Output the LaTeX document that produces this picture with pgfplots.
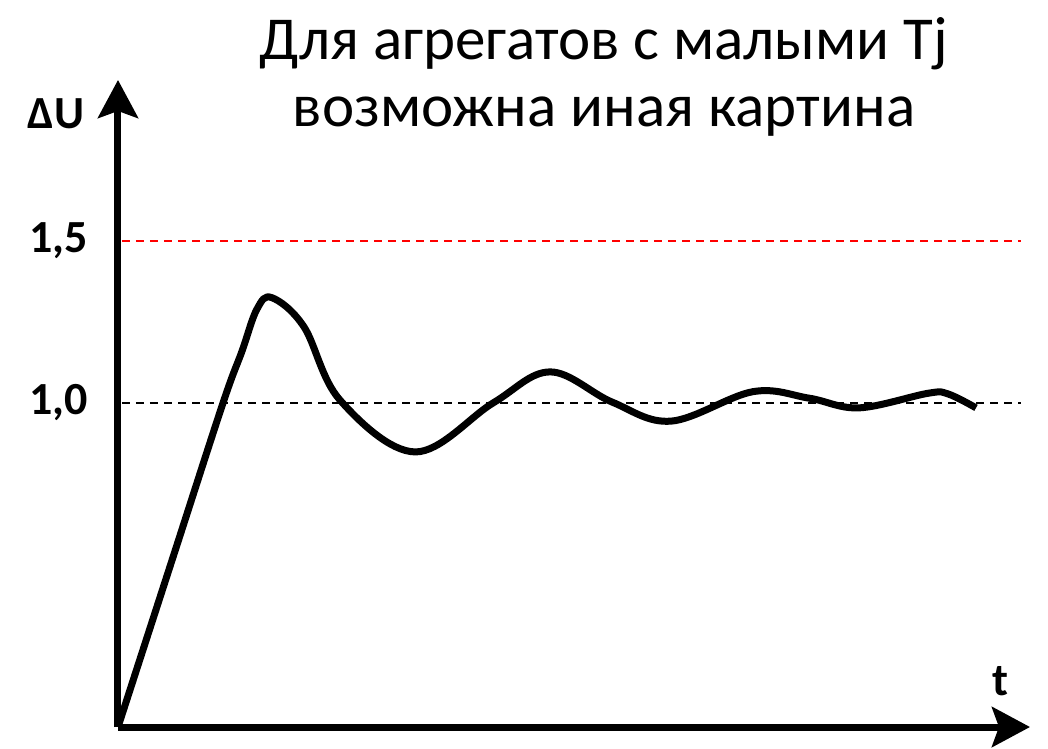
\documentclass[border=0pt]{standalone}
\usepackage{fontspec}
\setmainfont{Carlito}
\usepackage{pgfplots}
\pgfplotsset{compat=1.18}
\usetikzlibrary{arrows.meta}

\begin{document}
\begin{tikzpicture}
% 1pt = 1px of the reference, origin at the data origin
\path[use as bounding box] (-118pt,-21pt) rectangle (930pt,727pt);
\begin{axis}[
    at={(0,0)}, anchor=origin,
    x=100pt, y=324pt,
    xmin=0, xmax=9.12,
    ymin=0, ymax=1.997,
    axis lines=left,
    x axis line style={line width=7pt, -{Stealth[length=38pt,width=40pt,inset=7pt]}},
    y axis line style={line width=7pt, -{Stealth[length=38pt,width=40pt,inset=7pt]}},
    xtick=\empty,
    ytick={1,1.5},
    yticklabels={{1,0},{1,5}},
    major tick length=0pt,
    yticklabel style={anchor=east, inner sep=0pt, xshift=-30pt,
        font=\fontsize{46}{54}\selectfont\bfseries},
    clip=false,
]
\addplot[red, line width=2pt, dash pattern=on 8pt off 6pt] coordinates {(0.04,1.5) (9.03,1.5)};
\addplot[black, line width=2pt, dash pattern=on 8pt off 6pt] coordinates {(0.04,1.0) (9.03,1.0)};
\addplot[black, line width=7pt, smooth, tension=0.6, line join=round] coordinates {
    (0,0) (0.55,0.524) (1.05,1.0) (1.24,1.16) (1.39,1.29) (1.54,1.325)
    (1.86,1.235) (2.22,1.009) (2.97,0.849) (3.75,1.0) (4.32,1.096)
    (4.94,1.003) (5.53,0.944) (6.35,1.035) (6.91,1.015) (7.41,0.985)
    (8.1,1.03) (8.3,1.028) (8.58,0.985)
};
\end{axis}
\node[font=\fontsize{61}{72}\selectfont, anchor=base] at (486pt,667pt) {Для агрегатов с малыми Tj};
\node[font=\fontsize{61}{72}\selectfont, anchor=base] at (486pt,600pt) {возможна иная картина};
\node[font=\fontsize{46}{54}\selectfont\bfseries] at (-62pt,613pt) {ΔU};
\node[font=\fontsize{46}{54}\selectfont\bfseries] at (882pt,46pt) {t};
\end{tikzpicture}
\end{document}
